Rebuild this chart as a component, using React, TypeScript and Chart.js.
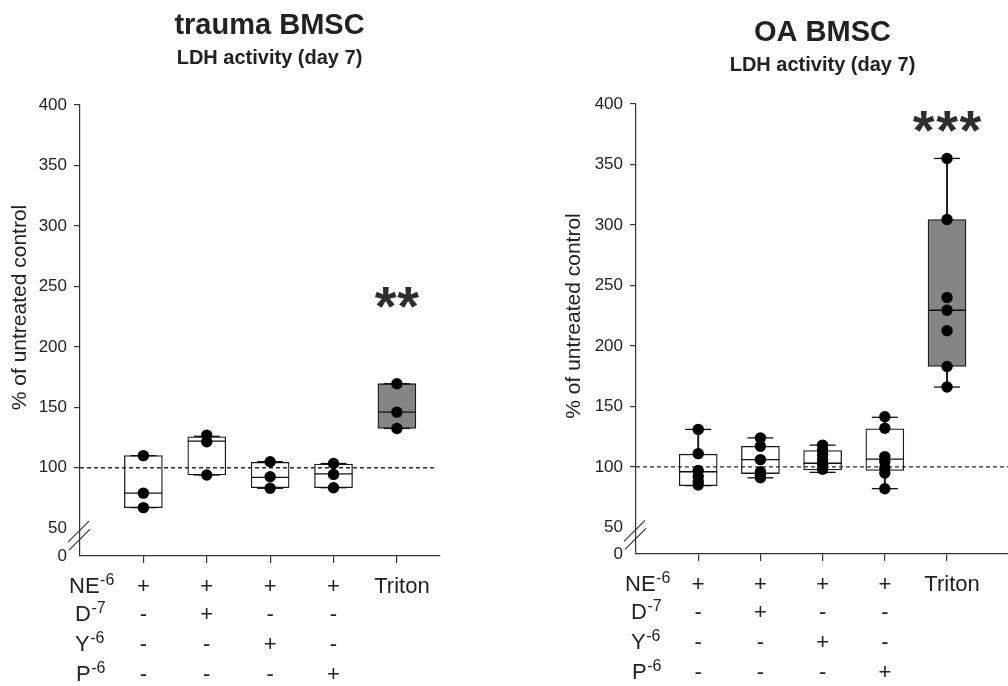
import React, { useEffect, useRef } from "react";
import { Chart, registerables } from "chart.js";

Chart.register(...registerables);

const FONT = "'Liberation Sans', Arial, Helvetica, sans-serif";

// ---------- shared data ----------
const categories = ["NE", "NE+D", "NE+Y", "NE+P", "Triton"];
const rowLabels = ["NE", "D", "Y", "P"];
const rowExponents = ["-6", "-7", "-6", "-6"];
const rowNE = ["+", "+", "+", "+", "Triton"];
const rowD = ["-", "+", "-", "-", ""];
const rowY = ["-", "-", "+", "-", ""];
const rowP = ["-", "-", "-", "+", ""];
const yTickValues = [50, 100, 150, 200, 250, 300, 350, 400];
const yBreakLabel = "0";
const referenceLevel = 100;
const boxFill = ["#ffffff", "#ffffff", "#ffffff", "#ffffff", "#858585"];

// ---------- trauma BMSC ----------
const traumaPoints = [
  [110, 79, 67],
  [127, 121.5, 94],
  [105, 92.5, 83],
  [103.5, 94.5, 83.5],
  [169.5, 146, 132.5],
];
const traumaQ1 = [67, 94, 83.5, 83.5, 132.5];
const traumaMedian = [79, 122, 92, 95, 146];
const traumaQ3 = [110, 125.5, 104.5, 103, 169.5];
const traumaMin = [67, 94, 83, 83.5, 132.5];
const traumaMax = [110, 126, 105, 103.5, 169.5];
const traumaStars = ["", "", "", "", "**"];
const traumaStarY = [0, 0, 0, 0, 240.7];

// ---------- OA BMSC ----------
const oaPoints = [
  [131, 111, 97, 92, 88, 85],
  [124, 117, 106, 96, 93, 91],
  [118, 114, 110, 106, 102, 98],
  [141.5, 132, 108.5, 104.5, 99, 95, 82],
  [355, 304.5, 240, 229.5, 212.5, 183, 166],
];
const oaQ1 = [84.5, 94.5, 97.5, 97, 183];
const oaMedian = [96, 106, 103, 106.5, 229.5];
const oaQ3 = [110.5, 117, 113.5, 131.5, 304.5];
const oaMin = [84.5, 91, 95.5, 82, 166];
const oaMax = [131, 124, 118, 141, 355];
const oaStars = ["", "", "", "", "***"];
const oaStarY = [0, 0, 0, 0, 385.6];

type PanelProps = {
  left: number;
  width: number;
  title: string;
  subtitle: string;
  points: number[][];
  q1: number[];
  median: number[];
  q3: number[];
  min: number[];
  max: number[];
  stars: string[];
  starY: number[];
  yMin: number;
  xMax: number;
  dashEnd: number;
  padLeft: number;
  padRight: number;
  padTop: number;
  yAxisWidth: number;
  xAxisHeight: number;
  titleX: number;
  titleBase: number;
  subBase: number;
  yTitleX: number;
  yTitleY: number;
  starPitch: number;
};

function Panel(p: PanelProps) {
  const ref = useRef<HTMLCanvasElement | null>(null);
  useEffect(() => {
    const canvas = ref.current;
    if (!canvas) return;
    const xs = categories.map((_, i) => i + 1);
    const textPlugin = {
      id: "panelText",
      afterDraw(chart: any) {
        const ctx = chart.ctx as CanvasRenderingContext2D;
        const xScale = chart.scales.x;
        const yScale = chart.scales.y;
        const area = chart.chartArea;
        ctx.save();
        ctx.fillStyle = "#222";
        // titles
        ctx.textAlign = "center";
        ctx.textBaseline = "alphabetic";
        ctx.font = `bold 29px ${FONT}`;
        ctx.fillText(p.title, p.titleX, p.titleBase);
        ctx.font = `bold 20px ${FONT}`;
        ctx.fillText(p.subtitle, p.titleX, p.subBase);
        // y title
        ctx.save();
        ctx.translate(p.yTitleX, p.yTitleY);
        ctx.rotate(-Math.PI / 2);
        ctx.textBaseline = "middle";
        ctx.font = `21px ${FONT}`;
        ctx.fillText("% of untreated control", 0, 0);
        ctx.restore();
        // stars
        ctx.font = `bold 56px ${FONT}`;
        ctx.fillStyle = "#2e2e2e";
        ctx.textAlign = "center";
        ctx.textBaseline = "alphabetic";
        p.stars.forEach((s, i) => {
          if (!s) return;
          const m = ctx.measureText("*");
          const yc = yScale.getPixelForValue(p.starY[i]);
          const base = yc + (m.actualBoundingBoxAscent - m.actualBoundingBoxDescent) / 2;
          const cx = xScale.getPixelForValue(xs[i]);
          const n = s.length;
          for (let k = 0; k < n; k++) {
            ctx.fillText(s[k], cx + (k - (n - 1) / 2) * p.starPitch, base);
          }
        });
        ctx.fillStyle = "#222";
        // table below axis
        const rows = [rowNE, rowD, rowY, rowP];
        const rowOffsets = [29, 57, 87, 117];
        const labelOffsets = [-11, -5, -5, -4];
        rows.forEach((row, r) => {
          const base = area.bottom + rowOffsets[r] + 8;
          const lx = area.left + labelOffsets[r];
          ctx.textAlign = "left";
          ctx.font = `22px ${FONT}`;
          ctx.fillText(rowLabels[r], lx, base);
          const w = ctx.measureText(rowLabels[r]).width;
          ctx.font = `16px ${FONT}`;
          ctx.fillText(rowExponents[r], lx + w + 0.5, base - 8.5);
          ctx.font = `22px ${FONT}`;
          ctx.textAlign = "center";
          row.forEach((t, i) => {
            if (!t) return;
            const px = xScale.getPixelForValue(xs[i]) + (t.length > 1 ? 5 : 0);
            ctx.fillText(t, px, base);
          });
        });
        // axis break marks
        const ax = area.left;
        const y50 = yScale.getPixelForValue(50);
        ctx.strokeStyle = "#333";
        ctx.lineWidth = 1.2;
        ctx.beginPath();
        ctx.moveTo(ax - 12, y50 + 14);
        ctx.lineTo(ax + 9, y50 - 7);
        ctx.moveTo(ax - 11, y50 + 22);
        ctx.lineTo(ax + 10, y50 + 1);
        ctx.stroke();
        ctx.restore();
      },
    };

    const chart = new Chart(canvas, {
      type: "scatter",
      data: {
        datasets: [
          {
            type: "scatter",
            label: "points",
            data: p.points.flatMap((arr, i) => arr.map((v) => ({ x: xs[i], y: v }))),
            pointRadius: 5.7,
            pointBackgroundColor: "#000",
            pointBorderColor: "#000",
            pointBorderWidth: 0,
            order: 0,
          } as any,
          {
            type: "line",
            label: "reference",
            data: [
              { x: 0, y: referenceLevel },
              { x: p.dashEnd, y: referenceLevel },
            ],
            borderColor: "#2a2a2a",
            borderWidth: 1.3,
            borderDash: [4, 3],
            pointRadius: 0,
            order: 1,
          } as any,
          {
            type: "scatter",
            label: "median",
            data: p.median.map((v, i) => ({ x: xs[i], y: v })),
            pointStyle: "line",
            pointRadius: 19,
            pointBorderColor: "#111",
            borderColor: "#111",
            pointBorderWidth: 1.3,
            order: 2,
          } as any,
          {
            type: "scatter",
            label: "caps",
            data: [
              ...p.max.map((v, i) => ({ x: xs[i], y: v })),
              ...p.min.map((v, i) => ({ x: xs[i], y: v })),
            ],
            pointStyle: "line",
            pointRadius: 13,
            pointBorderColor: "#111",
            borderColor: "#111",
            pointBorderWidth: 1.3,
            order: 3,
          } as any,
          {
            type: "bar",
            label: "box",
            data: p.q1.map((v, i) => ({ x: xs[i], y: [v, p.q3[i]] })),
            backgroundColor: boxFill,
            borderColor: "#1a1a1a",
            borderWidth: 1.3,
            borderSkipped: false,
            barThickness: 38,
            grouped: false,
            order: 4,
          } as any,
          {
            type: "bar",
            label: "whiskerHigh",
            data: p.q3.map((v, i) => ({ x: xs[i], y: [v, p.max[i]] })),
            backgroundColor: "#1a1a1a",
            borderWidth: 0,
            barThickness: 1.3,
            grouped: false,
            order: 5,
          } as any,
          {
            type: "bar",
            label: "whiskerLow",
            data: p.min.map((v, i) => ({ x: xs[i], y: [v, p.q1[i]] })),
            backgroundColor: "#1a1a1a",
            borderWidth: 0,
            barThickness: 1.3,
            grouped: false,
            order: 5,
          } as any,
        ],
      },
      options: {
        animation: false,
        responsive: false,
        maintainAspectRatio: false,
        layout: {
          autoPadding: false,
          padding: { left: p.padLeft, right: p.padRight, top: p.padTop, bottom: 0 },
        },
        plugins: {
          legend: { display: false },
          tooltip: { enabled: false },
          title: { display: false },
        },
        scales: {
          x: {
            type: "linear",
            min: 0,
            max: p.xMax,
            offset: false,
            afterBuildTicks: (s: any) => {
              s.ticks = xs.map((v) => ({ value: v }));
            },
            afterFit: (s: any) => {
              s.height = p.xAxisHeight;
            },
            ticks: { display: false },
            grid: { offset: false, drawOnChartArea: false, tickLength: 7, color: "#333", lineWidth: 1.2 },
            border: { color: "#333", width: 1.2 },
          },
          y: {
            type: "linear",
            min: p.yMin,
            max: 400,
            afterBuildTicks: (s: any) => {
              s.ticks = [{ value: p.yMin }, ...yTickValues.map((v) => ({ value: v }))];
            },
            afterFit: (s: any) => {
              s.width = p.yAxisWidth;
            },
            ticks: {
              autoSkip: false,
              padding: 7,
              color: "#222",
              font: { family: FONT, size: 17 },
              callback: (v: any) => (v === p.yMin ? yBreakLabel : String(v)),
            },
            grid: {
              drawOnChartArea: false,
              tickLength: 6,
              lineWidth: 1.2,
              color: (c: any) => (c.tick && c.tick.value <= 50 ? "rgba(0,0,0,0)" : "#333"),
            },
            border: { color: "#333", width: 1.2 },
          },
        },
      } as any,
      plugins: [textPlugin],
    });
    return () => chart.destroy();
  }, []);
  return (
    <canvas
      ref={ref}
      width={p.width}
      height={686}
      style={{ position: "absolute", left: p.left, top: 0, width: p.width, height: 686 }}
    />
  );
}

export default function App() {
  return (
    <div
      style={{
        position: "fixed",
        left: 0,
        top: 0,
        width: 1008,
        height: 686,
        background: "#fff",
        overflow: "hidden",
      }}
    >
      <Panel
        left={0}
        width={500}
        title="trauma BMSC"
        subtitle="LDH activity (day 7)"
        points={traumaPoints}
        q1={traumaQ1}
        median={traumaMedian}
        q3={traumaQ3}
        min={traumaMin}
        max={traumaMax}
        stars={traumaStars}
        starY={traumaStarY}
        yMin={27}
        xMax={5.68}
        dashEnd={5.6}
        padLeft={0}
        padRight={60}
        padTop={105}
        yAxisWidth={80}
        xAxisHeight={130}
        titleX={269.5}
        titleBase={34}
        subBase={64.3}
        yTitleX={20}
        yTitleY={307.5}
        starPitch={22.5}
      />
      <Panel
        left={500}
        width={508}
        title="OA BMSC"
        subtitle="LDH activity (day 7)"
        points={oaPoints}
        q1={oaQ1}
        median={oaMedian}
        q3={oaQ3}
        min={oaMin}
        max={oaMax}
        stars={oaStars}
        starY={oaStarY}
        yMin={28}
        xMax={5.98}
        dashEnd={5.98}
        padLeft={53}
        padRight={0}
        padTop={104}
        yAxisWidth={83}
        xAxisHeight={132}
        titleX={322.5}
        titleBase={40.7}
        subBase={70.7}
        yTitleX={74}
        yTitleY={316}
        starPitch={23.3}
      />
    </div>
  );
}
